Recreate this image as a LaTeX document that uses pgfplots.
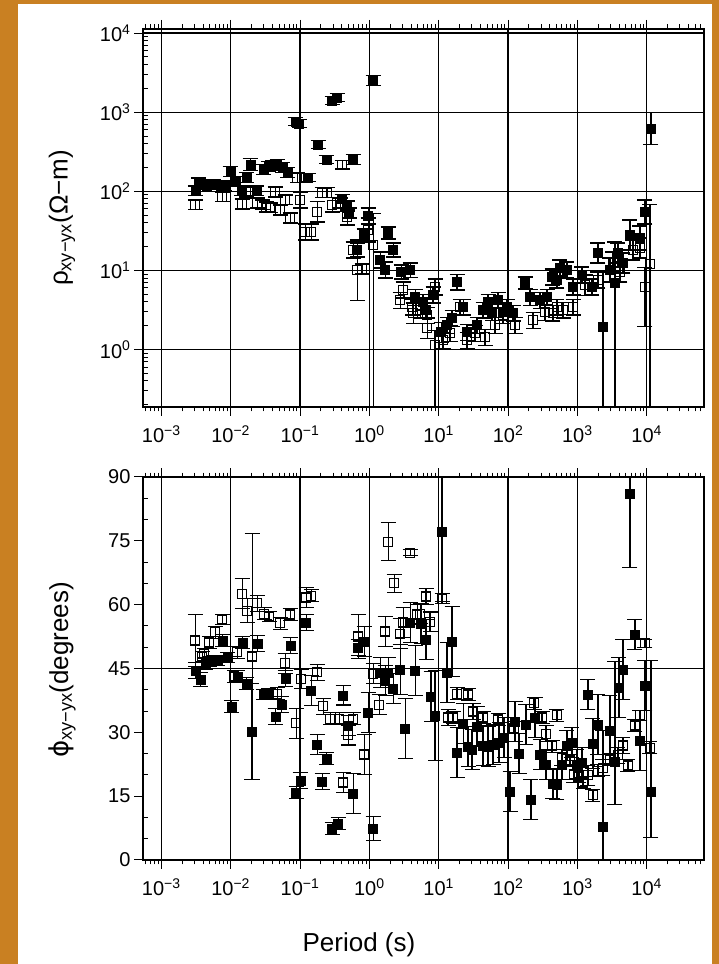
\documentclass[border=0pt]{standalone}
\usepackage{pgfplots}
\pgfplotsset{compat=1.18}
\usepackage{pgfplotstable}
\usepackage{fontspec}
\setmainfont{Liberation Sans}
\newfontfamily\dejavu{DejaVu Sans}
\definecolor{frameorange}{RGB}{201,128,34}

% minor tick positions (log10 axes)
\xdef\minorx{-3.2218,-3.1549,-3.0969,-3.0458}
\foreach \d in {-3,...,3}{\foreach \k in {2,...,9}{\pgfmathparse{\d+log10(\k)}\xdef\minorx{\minorx,\pgfmathresult}}}
\xdef\minorx{\minorx,4.3010,4.4771,4.6021,4.6990,4.7782}
\xdef\minory{-0.6990}
\foreach \d in {-1,...,3}{\foreach \k in {2,...,9}{\pgfmathparse{\d+log10(\k)}\xdef\minory{\minory,\pgfmathresult}}}

% ---- apparent resistivity, log10(period) vs log10(rho) ----
\pgfplotstableread{
x y e
-2.510 2.005 0.063
-2.467 2.106 0.063
-2.409 2.081 0.063
-2.352 2.056 0.063
-2.251 2.081 0.063
-2.150 2.056 0.063
-2.092 2.068 0.063
-2.006 2.246 0.063
-1.934 2.119 0.063
-1.847 2.005 0.063
-1.775 2.170 0.063
-1.718 2.334 0.076
-1.631 2.005 0.063
-1.530 2.271 0.063
-1.458 2.309 0.063
-1.401 2.322 0.063
-1.329 2.334 0.063
-1.256 2.296 0.063
-1.184 2.233 0.063
-1.069 2.879 0.051
-1.012 2.854 0.051
-0.882 2.170 0.051
-0.738 2.588 0.051
-0.622 2.398 0.051
-0.536 3.145 0.051
-0.464 3.183 0.051
-0.392 1.904 0.051
-0.320 1.815 0.063
-0.291 1.726 0.063
-0.233 2.398 0.063
-0.176 1.258 0.089
-0.075 1.448 0.076
-0.017 1.688 0.101
0.055 3.398 0.063
0.156 1.131 0.101
0.228 1.004 0.101
0.271 1.473 0.076
0.343 1.258 0.089
0.458 0.979 0.089
0.588 1.004 0.089
0.660 0.662 0.101
0.775 0.599 0.101
0.818 0.498 0.101
0.919 0.688 0.101
1.035 0.219 0.127
1.121 0.308 0.101
1.193 0.396 0.101
1.265 0.852 0.101
1.352 0.536 0.101
1.409 0.219 0.101
1.553 0.308 0.101
1.640 0.498 0.101
1.712 0.599 0.101
1.769 0.472 0.101
1.856 0.624 0.101
1.928 0.472 0.101
1.986 0.536 0.101
2.072 0.460 0.101
2.245 0.840 0.076
2.317 0.662 0.101
2.461 0.624 0.101
2.562 0.662 0.101
2.634 0.916 0.101
2.706 0.878 0.101
2.749 1.030 0.101
2.850 1.004 0.101
2.937 0.789 0.101
3.066 0.941 0.101
3.210 0.789 0.101
3.297 1.220 0.127
3.470 1.004 0.152
3.585 1.220 0.127
3.657 1.093 0.127
3.758 1.448 0.190
3.902 1.410 0.152
3.974 1.739 0.152
4.061 2.790 0.203
}\rhoxy
\pgfplotstableread{
x y em ep
3.369 0.282 1.10 0.70
3.542 0.840 1.60 0.52
}\rhoxyasym
\pgfplotstableread{
x y e
-2.510 1.828 0.063
-2.121 1.929 0.063
-1.833 1.840 0.063
-1.775 1.992 0.063
-1.617 1.853 0.063
-1.545 1.828 0.063
-1.487 1.802 0.063
-1.429 1.790 0.063
-1.357 1.992 0.063
-1.285 1.764 0.063
-1.213 1.891 0.063
-1.141 1.663 0.063
-1.040 2.170 0.063
-0.997 1.891 0.101
-0.925 1.486 0.101
-0.839 1.486 0.101
-0.752 1.739 0.127
-0.680 1.980 0.063
-0.608 1.980 0.063
-0.536 1.828 0.089
-0.421 1.853 0.063
-0.392 2.334 0.051
-0.320 1.676 0.101
-0.233 1.258 0.101
-0.176 1.004 0.380
-0.104 1.017 0.063
-0.017 1.511 0.152
0.444 0.624 0.101
0.487 0.751 0.101
0.617 0.536 0.101
0.631 0.460 0.127
0.732 0.498 0.101
0.833 0.434 0.101
0.833 0.270 0.127
0.948 0.789 0.101
1.063 0.118 0.101
1.164 0.206 0.101
1.308 0.536 0.101
1.409 0.118 0.101
1.524 0.206 0.101
1.669 0.156 0.101
1.813 0.308 0.101
1.928 0.434 0.101
2.101 0.308 0.101
2.360 0.371 0.101
2.533 0.472 0.101
2.648 0.460 0.101
2.706 0.536 0.101
2.793 0.498 0.101
2.937 0.536 0.101
3.110 0.814 0.127
3.297 0.878 0.101
3.513 1.106 0.127
3.614 0.979 0.127
3.801 1.258 0.127
3.902 1.283 0.127
}\rhoyx
\pgfplotstableread{
x y em ep
0.055 1.321 2.10 0.40
0.948 0.054 1.00 0.19
3.974 0.789 0.50 0.25
4.046 1.080 2.00 0.75
}\rhoyxasym

% ---- phase, log10(period) vs degrees ----
\pgfplotstableread{
x y e
-2.510 44.5 1.9
-2.438 42.4 1.6
-2.366 46.2 1.4
-2.308 46.6 1.2
-2.251 46.9 1.2
-2.193 46.9 1.2
-2.121 51.6 1.4
-2.049 47.6 1.2
-1.991 36.1 1.4
-1.905 43.1 1.4
-1.833 51.1 1.4
-1.775 41.5 1.4
-1.703 30.2 11.3
-1.617 50.9 1.9
-1.530 38.9 1.2
-1.458 39.1 1.2
-1.357 33.7 1.9
-1.271 36.5 1.9
-1.213 42.6 1.9
-1.141 50.4 1.9
-1.055 15.9 1.4
-0.997 18.7 1.9
-0.911 55.8 1.9
-0.839 39.8 3.5
-0.752 27.1 2.3
-0.680 18.4 1.9
-0.622 23.8 1.4
-0.536 7.4 1.4
-0.450 8.6 1.4
-0.378 38.7 2.3
-0.305 31.6 2.3
-0.233 15.6 4.7
-0.161 49.9 1.9
-0.075 51.3 3.5
-0.017 34.7 4.7
0.055 7.4 2.8
0.156 44.1 3.5
0.228 42.2 3.5
0.271 44.1 3.5
0.343 40.3 3.5
0.444 44.8 5.9
0.516 30.9 7.0
0.588 55.8 4.7
0.660 44.5 5.9
0.746 55.6 4.7
0.818 51.8 4.7
0.890 38.4 5.9
0.948 34.0 10.6
1.049 77.2 16.5
1.121 44.1 7.0
1.193 51.3 8.2
1.265 25.3 5.9
1.352 32.1 4.7
1.424 26.7 4.7
1.481 26.0 4.7
1.553 31.4 4.7
1.640 26.9 4.7
1.712 26.7 4.7
1.784 27.1 4.7
1.870 27.6 4.7
1.942 28.8 4.7
2.029 16.1 4.7
2.101 32.5 4.7
2.159 25.0 4.7
2.259 31.8 4.7
2.331 14.2 4.7
2.389 33.5 4.7
2.461 24.8 3.5
2.548 22.4 3.5
2.648 18.0 3.5
2.706 17.7 3.5
2.778 22.4 3.5
2.850 26.9 3.5
2.922 27.6 3.5
2.994 22.4 3.5
3.066 22.9 3.5
3.153 38.9 3.5
3.225 27.4 5.9
3.297 31.8 7.0
3.470 30.4 8.2
3.599 40.5 7.0
3.657 44.8 7.0
3.758 86.1 17.4
3.830 53.0 3.5
3.902 28.1 7.0
3.974 41.0 5.9
}\phixy
\pgfplotstableread{
x y em ep
3.369 7.9 10.0 22.6
3.542 23.1 10.0 23.5
4.061 16.1 10.8 30.8
}\phixyasym
\pgfplotstableread{
x y e
-2.510 51.6 6.1
-2.409 47.8 1.2
-2.380 48.5 1.2
-2.308 51.1 1.4
-2.222 53.5 1.4
-2.121 56.5 1.2
-1.948 43.1 1.4
-1.905 48.8 1.4
-1.833 62.6 3.5
-1.761 58.6 2.8
-1.689 47.8 28.9
-1.617 60.3 1.9
-1.516 57.9 1.4
-1.444 57.2 1.2
-1.329 39.1 1.4
-1.285 55.6 1.4
-1.213 46.2 2.3
-1.141 57.7 1.4
-1.055 32.1 3.5
-0.983 42.6 2.3
-0.911 61.7 2.3
-0.839 62.1 1.4
-0.752 44.1 1.9
-0.666 36.1 1.9
-0.565 33.2 1.4
-0.493 33.2 1.4
-0.435 33.2 1.4
-0.378 18.2 2.3
-0.305 29.3 2.3
-0.233 33.2 1.4
-0.161 52.5 5.2
-0.075 24.8 4.7
0.055 43.8 2.3
0.141 36.5 2.3
0.228 53.7 3.5
0.271 74.8 4.5
0.357 65.0 2.1
0.444 53.2 3.5
0.487 55.8 3.5
0.588 72.2 0.7
0.689 57.7 2.3
0.732 57.9 2.3
0.818 61.9 1.9
0.876 56.0 2.3
1.049 61.4 1.2
1.135 33.5 1.9
1.207 33.5 1.4
1.265 39.1 1.4
1.424 38.9 1.4
1.496 34.9 1.9
1.640 33.5 1.4
1.856 33.0 1.4
2.086 31.1 1.4
2.375 36.8 1.4
2.490 33.5 1.4
2.548 29.7 1.9
2.634 26.7 1.4
2.706 34.0 1.4
2.778 24.1 1.9
2.893 23.4 1.4
2.951 20.1 1.9
3.023 19.6 1.4
3.081 18.2 1.4
3.153 19.9 2.3
3.225 15.2 1.4
3.297 21.0 1.4
3.369 21.7 1.9
3.470 23.6 1.4
3.585 24.6 1.9
3.657 26.9 1.9
3.729 22.2 1.4
3.830 31.6 1.4
3.902 34.0 1.2
3.974 50.9 0.9
4.046 26.4 1.4
}\phiyx

\pgfplotsset{
  panel/.style={
    scale only axis, width=561pt, anchor=south west,
    xmin=-3.264, xmax=4.826,
    xtick={-3,...,4},
    xticklabels={10\textsuperscript{−3},10\textsuperscript{−2},10\textsuperscript{−1},10\textsuperscript{0},10\textsuperscript{1},10\textsuperscript{2},10\textsuperscript{3},10\textsuperscript{4}},
    axis line style={line width=2pt},
    tick style={black, line width=1pt},
    major tick length=9pt, minor tick length=4.5pt,
    tick align=outside,
    xtick pos=both, ytick pos=left,
    minor y tick style={xshift=4.5pt},
    xmajorgrids,
    major grid style={black, line width=1.2pt},
    tick label style={font=\fontsize{20}{22}\selectfont, black},
    xticklabel style={yshift=-6pt},
  },
  filledpts/.style={only marks, mark=square*, mark size=4.5pt, black,
    error bars/y dir=both,
    error bars/error bar style={line width=1.2pt, black},
    error bars/error mark options={rotate=90, mark size=7.5pt, line width=1.2pt, black}},
  openpts/.style={only marks, mark=square, mark size=4.5pt, black, mark options={line width=1.2pt},
    error bars/y dir=both,
    error bars/error bar style={line width=1.2pt, black},
    error bars/error mark options={rotate=90, mark size=7.5pt, line width=1.2pt, black}},
}

\begin{document}
\begin{tikzpicture}[x=1pt,y=1pt]
\useasboundingbox (0,0) rectangle (719,964);
\fill[frameorange] (0,0) rectangle (719,964);
\fill[white] (18,0) rectangle (712,959.5);

% top panel: apparent resistivity
\begin{axis}[panel, at={(143pt,557pt)}, height=378pt,
  ymin=-0.727, ymax=4.052,
  ytick={0,...,4},
  yticklabels={10\textsuperscript{0},10\textsuperscript{1},10\textsuperscript{2},10\textsuperscript{3},10\textsuperscript{4}},
  ymajorgrids,
  minor xtick/.expand once=\minorx,
  minor ytick/.expand once=\minory,
]
\addplot[filledpts, error bars/y explicit] table[x=x, y=y, y error=e] {\rhoxy};
\addplot[filledpts, error bars/y explicit] table[x=x, y=y, y error plus=ep, y error minus=em] {\rhoxyasym};
\addplot[openpts, error bars/y explicit] table[x=x, y=y, y error=e] {\rhoyx};
\addplot[openpts, error bars/y explicit] table[x=x, y=y, y error plus=ep, y error minus=em] {\rhoyxasym};
\end{axis}

% bottom panel: phase
\begin{axis}[panel, at={(143pt,104pt)}, height=383pt,
  ymin=0, ymax=90,
  ytick={0,15,...,90},
  yticklabels={0,15,30,45,60,75,90},
  minor ytick={5,10,20,25,35,40,50,55,65,70,80,85},
  extra y ticks={45}, extra y tick labels={},
  extra y tick style={ymajorgrids=true, major tick length=0pt},
  minor xtick/.expand once=\minorx,
]
\addplot[filledpts, error bars/y explicit] table[x=x, y=y, y error=e] {\phixy};
\addplot[filledpts, error bars/y explicit] table[x=x, y=y, y error plus=ep, y error minus=em] {\phixyasym};
\addplot[openpts, error bars/y explicit] table[x=x, y=y, y error=e] {\phiyx};
\end{axis}

\node[rotate=90, font=\fontsize{26}{30}\selectfont] at (62,746) {ρ\textsubscript{xy−yx}(Ω−m)};
\node[rotate=90, font=\fontsize{26}{30}\selectfont] at (62,294) {{\dejavu ϕ}\textsubscript{xy−yx}(degrees)};
\node[font=\fontsize{26}{30}\selectfont] at (359,19) {Period (s)};
\end{tikzpicture}
\end{document}
